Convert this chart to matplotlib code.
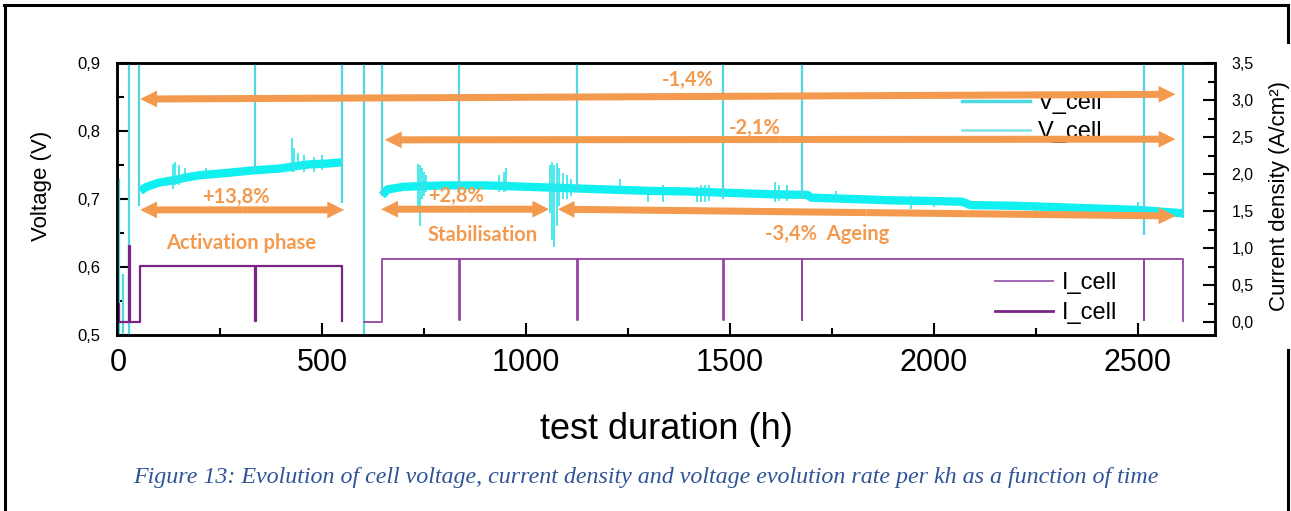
import matplotlib
matplotlib.use('Agg')
import matplotlib.pyplot as plt
import matplotlib.ticker as ticker
from matplotlib.lines import Line2D
from matplotlib.patches import FancyArrowPatch

# operating voltage band (V), activation phase then restart
v1_time = [54, 70, 100, 140, 170, 200, 260, 330, 400, 430, 470, 510, 549]
v1_volt = [0.712, 0.718, 0.724, 0.728, 0.732, 0.735, 0.738, 0.742, 0.745, 0.748, 0.751, 0.752, 0.754]
v2_time = [647, 660, 700, 800, 900, 1000, 1100, 1200, 1300, 1400, 1500, 1600, 1690, 1700,
           1800, 1900, 2000, 2070, 2090, 2200, 2300, 2400, 2500, 2612]
v2_volt = [0.705, 0.714, 0.718, 0.720, 0.720, 0.718, 0.716, 0.714, 0.712, 0.711, 0.709, 0.707,
           0.706, 0.702, 0.700, 0.698, 0.697, 0.696, 0.691, 0.690, 0.688, 0.686, 0.684, 0.679]

# stops / restarts: voltage jumps (time, low, high)
stop_time = [2, 12, 27, 51, 336, 549, 602, 647, 836, 1125, 1483, 1676, 2515, 2612]
stop_low = [0.5, 0.5, 0.5, 0.69, 0.74, 0.694, 0.5, 0.705, 0.71, 0.71, 0.70, 0.70, 0.647, 0.672]
stop_high = [0.73, 0.59, 0.9, 0.9, 0.9, 0.9, 0.9, 0.9, 0.9, 0.9, 0.9, 0.9, 0.9, 0.9]

# small voltage disturbances (time, low, high)
glitch_time = [135, 140, 150, 165, 215, 300, 425, 430, 440, 455, 480, 500,
               735, 740, 745, 750, 755, 935, 945, 950, 1060, 1065, 1070, 1075, 1080, 1090, 1100, 1110,
               1230, 1300, 1335, 1420, 1430, 1440, 1450, 1610, 1620, 1640, 1760, 1945, 2000, 2250, 2500]
glitch_low = [0.715, 0.72, 0.72, 0.725, 0.73, 0.735, 0.74, 0.74, 0.742, 0.74, 0.74, 0.742,
              0.69, 0.66, 0.70, 0.705, 0.71, 0.71, 0.71, 0.712, 0.68, 0.64, 0.63, 0.66, 0.69, 0.70, 0.70, 0.705,
              0.71, 0.695, 0.695, 0.695, 0.695, 0.695, 0.697, 0.695, 0.697, 0.697, 0.695, 0.685, 0.688, 0.68, 0.675]
glitch_high = [0.752, 0.755, 0.75, 0.745, 0.745, 0.745, 0.79, 0.775, 0.768, 0.765, 0.762, 0.765,
               0.752, 0.75, 0.745, 0.74, 0.735, 0.735, 0.74, 0.745, 0.75, 0.754, 0.75, 0.753, 0.745, 0.738, 0.735, 0.73,
               0.73, 0.716, 0.72, 0.718, 0.72, 0.72, 0.72, 0.725, 0.72, 0.72, 0.712, 0.705, 0.70, 0.69, 0.695]

# current density (A/cm2)
i1_time = [0, 3, 3, 27, 27, 28, 28, 54, 54, 335, 335, 337, 337, 550, 550]
i1_curr = [0.25, 0.25, 0.0, 0.0, 1.03, 1.03, 0.0, 0.0, 0.76, 0.76, 0.02, 0.02, 0.76, 0.76, 0.02]
i2_time = [602, 648, 648, 836, 836, 838, 838, 1125, 1125, 1127, 1127, 1483, 1483, 1485, 1485,
           1676, 1676, 1678, 1678, 2515, 2515, 2517, 2517, 2612, 2612]
i2_curr = [0.0, 0.0, 0.85, 0.85, 0.03, 0.03, 0.85, 0.85, 0.03, 0.03, 0.85, 0.85, 0.03, 0.03, 0.85,
           0.85, 0.03, 0.03, 0.85, 0.85, 0.03, 0.03, 0.85, 0.85, 0.02]

# evolution rate annotations: (t_start, v_start, t_end, v_end)
arrows = [(54, 0.847, 2593, 0.854),
          (654, 0.787, 2593, 0.788),
          (54, 0.684, 554, 0.684),
          (645, 0.685, 1057, 0.685),
          (1078, 0.685, 2593, 0.675)]
notes = ['-1,4%', '-2,1%', '+13,8%', 'Activation phase', '+2,8%', 'Stabilisation', '-3,4%  Ageing']
note_pos = [(1397, 0.875), (1561, 0.804), (289, 0.703), (301, 0.635), (828, 0.704), (894, 0.647), (1738, 0.649)]

ORANGE = '#F39A4E'
CYAN = '#10F0F0'
TEAL = '#52D6E0'

plt.rcParams['font.family'] = ['Liberation Sans', 'DejaVu Sans']

W, H = 1291, 511
fig = plt.figure(figsize=(W / 100, H / 100), dpi=100)
ax = fig.add_axes([117 / W, 1 - 335 / H, 1098 / W, 272 / H])
ax2 = ax.twinx()


def comma(x, pos):
    return f'{x:.1f}'.replace('.', ',')


def double_arrow(ax, x0, y0, x1, y1):
    xm, ym = (x0 + x1) / 2, (y0 + y1) / 2
    for xe, ye in ((x0, y0), (x1, y1)):
        ax.add_patch(FancyArrowPatch((xm, ym), (xe, ye),
                                     arrowstyle='simple,head_length=0.55,head_width=0.55,tail_width=0.23',
                                     mutation_scale=22, color=ORANGE, lw=0, shrinkA=0, shrinkB=0, zorder=10))


# voltage
ax.plot(v1_time, v1_volt, color=CYAN, lw=6, solid_capstyle='butt', zorder=3)
ax.plot(v2_time, v2_volt, color=CYAN, lw=6, solid_capstyle='butt', zorder=3)
ax.vlines(glitch_time, glitch_low, glitch_high, color='#2DE6EA', lw=1.2, zorder=3)
ax.vlines(stop_time, stop_low, stop_high, color=TEAL, lw=1.6, zorder=4)

# current
ax2.plot(i1_time, i1_curr, color='#7A2485', lw=1.6)
ax2.plot(i2_time, i2_curr, color='#9444A4', lw=1.3)

ax.set_xlim(-3, 2690)
ax.set_ylim(0.5, 0.9)
ax2.set_ylim(-0.175, 3.5)

ax.set_xticks(range(0, 2501, 500))
ax.xaxis.set_minor_locator(ticker.MultipleLocator(250))
ax.set_yticks([0.5, 0.6, 0.7, 0.8, 0.9])
ax.yaxis.set_minor_locator(ticker.MultipleLocator(0.05))
ax.yaxis.set_major_formatter(ticker.FuncFormatter(comma))
ax2.set_yticks([0, 0.5, 1, 1.5, 2, 2.5, 3, 3.5])
ax2.yaxis.set_minor_locator(ticker.MultipleLocator(0.25))
ax2.yaxis.set_major_formatter(ticker.FuncFormatter(comma))

ax.tick_params(which='both', direction='in', width=1.5, top=False, right=False)
ax.tick_params(which='major', length=9)
ax.tick_params(which='minor', length=5)
ax.tick_params(axis='x', labelsize=22, pad=9)
ax.tick_params(axis='y', labelsize=12, pad=12)
ax2.tick_params(which='both', direction='in', width=1.5, labelsize=11.5, pad=12)
ax2.tick_params(which='major', length=9)
ax2.tick_params(which='minor', length=5)

for a in (ax, ax2):
    for s in a.spines.values():
        s.set_linewidth(1.8)

ax.set_xlabel('test duration (h)', fontsize=26, labelpad=25)
ax.set_ylabel('Voltage (V)', fontsize=16)
ax.yaxis.set_label_coords(-0.059, 0.548)
ax2.set_ylabel('Current density (A/cm²)', fontsize=16)
ax2.yaxis.set_label_coords(1.049, 0.511)

# legends
v_handles = [Line2D([], [], color='#4DD9DF', lw=2.5), Line2D([], [], color='#80E2E4', lw=1.8)]
leg1 = ax.legend(v_handles, ['V_cell', 'V_cell'], loc='upper left',
                 bbox_to_anchor=(962 / W, 1 - 92 / H), bbox_transform=fig.transFigure,
                 frameon=False, fontsize=17, handlelength=2.9, handletextpad=0.3,
                 labelspacing=0.3, borderpad=0, borderaxespad=0)
leg1.set_zorder(5)
ax.add_artist(leg1)
i_handles = [Line2D([], [], color='#A366B5', lw=1.4), Line2D([], [], color='#7A2485', lw=2)]
leg2 = ax.legend(i_handles, ['I_cell', 'I_cell'], loc='upper left',
                 bbox_to_anchor=(995 / W, 1 - 272 / H), bbox_transform=fig.transFigure,
                 frameon=False, fontsize=17, handlelength=2.45, handletextpad=0.4,
                 labelspacing=0.35, borderpad=0, borderaxespad=0)
leg2.set_zorder(5)

# annotations
for x0, y0, x1, y1 in arrows:
    double_arrow(ax, x0, y0, x1, y1)
for txt, (tx, ty) in zip(notes, note_pos):
    ax.text(tx, ty, txt, color=ORANGE, fontsize=14.5, fontweight='bold', family=['Lato', 'DejaVu Sans'],
            ha='center', va='center', zorder=11)

# caption
fig.text(646 / W, 1 - 477 / H,
         'Figure 13: Evolution of cell voltage, current density and voltage evolution rate per kh as a function of time',
         ha='center', va='center', fontsize=17.3, style='italic', family='Liberation Serif', color='#2F5496')

# page frame
frame = dict(transform=fig.transFigure, color='black', lw=2.2)
fig.add_artist(Line2D([5 / W, 5 / W], [0, 1 - 5 / H], **frame))
fig.add_artist(Line2D([4 / W, 1288 / W], [1 - 5 / H, 1 - 5 / H], **frame))
fig.add_artist(Line2D([1288 / W, 1288 / W], [1 - 5 / H, 1 - 42 / H], **frame))
fig.add_artist(Line2D([1288 / W, 1288 / W], [0, 1 - 350 / H], **frame))

fig.savefig('out.png', dpi=100)
